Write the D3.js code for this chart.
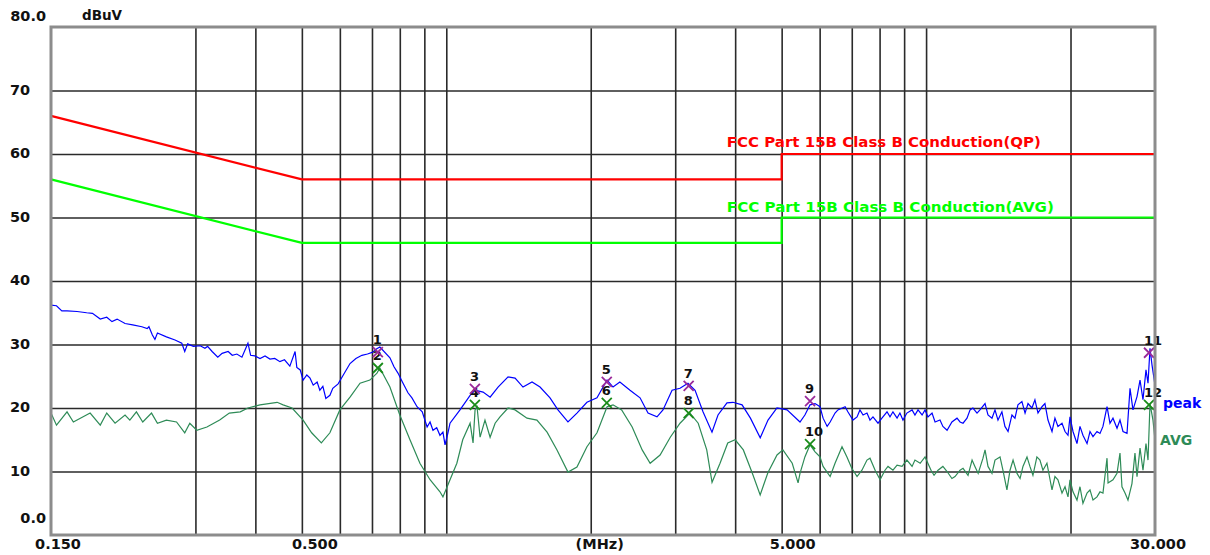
<!DOCTYPE html>
<html>
<head>
<meta charset="utf-8">
<script src="https://cdn.jsdelivr.net/npm/d3@7"></script>
<style>
  body { margin: 0; background: #fff; }
  text { font-family: "DejaVu Sans", sans-serif; font-weight: bold; }
</style>
</head>
<body>
<div id="chart"></div>
<script>
// frequency sweep (MHz) / level (dBuV)
const peakTrace = [
  [0.150,36.2],[0.154,36.1],[0.158,35.3],[0.162,35.3],[0.170,35.2],[0.178,35.0],[0.183,34.9],[0.190,34.0],
  [0.196,34.3],[0.201,33.6],[0.206,34.0],[0.214,33.3],[0.222,33.1],[0.232,32.8],[0.238,32.5],[0.240,32.8],
  [0.244,31.5],[0.247,30.8],[0.250,31.8],[0.261,31.2],[0.272,30.7],[0.281,30.2],[0.285,28.9],[0.289,30.1],
  [0.297,29.7],[0.307,29.8],[0.314,29.4],[0.318,29.7],[0.325,28.9],[0.334,28.0],[0.341,28.6],[0.351,28.9],
  [0.358,28.3],[0.366,28.5],[0.375,28.0],[0.386,30.2],[0.391,28.3],[0.399,28.2],[0.409,27.8],[0.419,28.2],
  [0.429,27.7],[0.439,27.8],[0.450,27.3],[0.460,27.6],[0.472,26.6],[0.484,28.9],[0.488,26.4],[0.496,26.0],
  [0.503,24.4],[0.512,25.2],[0.520,24.7],[0.528,23.6],[0.538,24.1],[0.545,22.8],[0.553,23.4],[0.561,21.5],
  [0.572,22.0],[0.580,23.1],[0.595,23.8],[0.610,25.2],[0.630,27.0],[0.648,27.8],[0.667,28.3],[0.685,28.5],
  [0.703,28.8],[0.715,29.3],[0.727,29.6],[0.763,27.9],[0.778,26.5],[0.793,25.5],[0.810,24.1],[0.832,22.4],
  [0.848,21.6],[0.869,20.2],[0.891,19.4],[0.912,17.0],[0.925,17.8],[0.938,16.5],[0.955,16.9],[0.970,15.7],
  [0.984,16.2],[0.994,14.2],[1.008,16.1],[1.018,17.6],[1.068,19.7],[1.121,22.0],[1.148,22.8],[1.193,22.5],
  [1.234,21.7],[1.282,23.3],[1.345,24.9],[1.391,24.7],[1.445,23.3],[1.509,24.1],[1.568,23.3],[1.645,21.6],
  [1.709,19.7],[1.793,17.8],[1.872,19.2],[1.964,20.9],[2.061,21.6],[2.163,24.4],[2.226,23.3],[2.30,24.1],
  [2.415,22.8],[2.534,21.6],[2.633,19.2],[2.749,18.6],[2.829,19.7],[2.955,22.8],[3.070,23.1],[3.189,23.9],
  [3.30,22.8],[3.428,19.4],[3.579,16.2],[3.684,18.9],[3.846,20.8],[3.958,20.9],[4.135,20.5],[4.304,18.4],
  [4.511,15.3],[4.683,18.1],[4.889,20.0],[5.131,19.7],[5.46,17.8],[5.59,18.9],[5.73,20.5],[5.87,20.7],
  [6.01,20.2],[6.10,18.4],[6.22,17.1],[6.31,17.8],[6.46,19.2],[6.55,19.7],[6.78,20.2],[6.87,19.4],
  [7.04,18.1],[7.18,18.6],[7.28,19.7],[7.39,18.9],[7.53,19.2],[7.64,18.1],[7.75,18.6],[7.94,17.6],
  [8.09,18.4],[8.29,19.4],[8.41,18.6],[8.53,19.4],[8.70,18.4],[8.82,19.2],[8.95,18.1],[9.12,19.2],
  [9.35,19.7],[9.48,18.9],[9.62,19.7],[9.81,18.9],[9.95,19.7],[10.09,18.6],[10.29,19.2],[10.44,17.8],
  [10.69,18.1],[10.84,17.1],[11.06,16.5],[11.32,17.8],[11.60,18.4],[11.77,17.8],[11.94,17.6],[12.17,18.4],
  [12.35,19.7],[12.52,20.0],[12.77,19.2],[12.95,19.7],[13.27,20.7],[13.46,18.9],[13.72,18.4],[13.92,19.7],
  [14.12,18.1],[14.39,19.4],[14.60,17.1],[14.82,16.3],[15.10,18.9],[15.32,18.4],[15.54,20.5],[15.84,21.0],
  [16.08,19.2],[16.31,20.7],[16.62,20.0],[16.86,21.3],[17.11,19.2],[17.44,20.2],[17.69,20.7],[17.95,18.1],
  [18.30,16.3],[18.56,18.4],[18.83,17.1],[19.20,17.6],[19.48,16.3],[19.76,15.7],[19.95,18.6],[20.24,16.3],
  [20.63,14.4],[20.93,17.1],[21.23,15.7],[21.65,14.4],[21.96,16.3],[22.28,15.5],[22.71,16.3],[23.04,16.0],
  [23.37,17.1],[23.83,20.2],[24.17,17.6],[24.52,18.4],[25.00,16.8],[25.36,18.1],[25.73,16.3],[26.23,16.0],
  [26.61,23.1],[26.99,19.7],[27.52,21.8],[27.92,24.4],[28.32,21.3],[28.73,26.0],[29.01,23.9],[29.29,29.4],
  [29.57,26.8],[30.0,23.6]
];

const avgTrace = [
  [0.150,19.2],[0.154,17.3],[0.162,19.4],[0.167,17.8],[0.181,19.2],[0.190,17.3],[0.196,19.2],[0.204,17.6],
  [0.214,18.9],[0.219,18.1],[0.226,19.4],[0.233,17.8],[0.243,19.2],[0.250,17.6],[0.261,18.1],[0.274,17.8],
  [0.285,16.1],[0.292,17.6],[0.302,16.5],[0.317,17.0],[0.337,18.1],[0.353,19.2],[0.372,19.4],[0.386,20.0],
  [0.409,20.5],[0.444,20.9],[0.457,20.5],[0.477,20.0],[0.503,18.1],[0.524,16.1],[0.549,14.5],[0.572,16.1],
  [0.600,19.7],[0.630,21.7],[0.661,23.9],[0.693,24.4],[0.717,25.5],[0.727,26.3],[0.763,23.3],[0.800,18.9],
  [0.840,15.0],[0.881,11.3],[0.925,8.7],[0.970,6.8],[0.984,6.0],[1.018,8.7],[1.052,11.3],[1.082,15.0],
  [1.121,17.6],[1.137,14.5],[1.148,19.7],[1.159,20.2],[1.176,15.4],[1.204,18.1],[1.234,15.4],[1.264,17.6],
  [1.294,18.6],[1.345,20.0],[1.391,19.7],[1.473,18.4],[1.545,18.1],[1.622,16.2],[1.701,13.4],[1.793,9.9],
  [1.872,10.7],[1.964,13.9],[2.061,16.1],[2.163,20.2],[2.226,20.5],[2.32,19.7],[2.44,17.0],[2.56,13.4],
  [2.66,11.3],[2.79,12.6],[2.93,15.4],[3.07,17.6],[3.22,19.2],[3.35,17.6],[3.49,13.4],[3.58,8.3],
  [3.72,11.3],[3.86,14.5],[4.00,15.0],[4.16,13.4],[4.34,9.8],[4.51,6.3],[4.68,9.8],[4.89,12.6],
  [5.03,13.4],[5.26,11.3],[5.41,8.2],[5.46,9.7],[5.59,12.3],[5.73,14.2],[5.87,13.1],[6.01,12.3],
  [6.10,10.8],[6.31,9.2],[6.46,11.3],[6.68,13.9],[6.84,12.3],[7.00,10.5],[7.18,9.2],[7.35,10.2],
  [7.53,11.8],[7.64,12.1],[7.83,10.2],[8.02,8.7],[8.21,10.2],[8.33,10.8],[8.53,10.2],[8.70,11.0],
  [8.91,10.8],[9.12,11.8],[9.35,10.8],[9.48,11.8],[9.72,11.3],[9.95,12.3],[10.24,10.2],[10.39,9.4],
  [10.59,10.2],[10.84,10.8],[11.06,10.0],[11.32,8.9],[11.49,9.2],[11.77,10.2],[11.94,10.5],[12.23,9.4],
  [12.47,11.8],[12.64,10.8],[12.84,9.7],[13.14,12.1],[13.27,13.4],[13.46,10.8],[13.72,9.7],[13.92,11.8],
  [14.26,12.3],[14.46,10.2],[14.74,7.1],[14.96,10.2],[15.18,11.8],[15.47,9.7],[15.70,8.9],[15.92,10.8],
  [16.23,12.3],[16.46,10.8],[16.70,9.4],[17.02,12.3],[17.27,11.8],[17.52,10.2],[17.86,11.3],[18.13,8.7],
  [18.30,7.1],[18.56,9.2],[18.83,8.7],[19.20,6.6],[19.48,7.6],[19.76,6.0],[19.95,8.7],[20.24,6.8],
  [20.63,5.5],[20.93,7.6],[21.23,5.0],[21.65,6.6],[21.96,7.1],[22.28,5.5],[22.71,6.0],[23.04,6.8],
  [23.37,6.6],[23.83,12.1],[23.95,8.2],[24.52,8.7],[25.00,9.7],[25.36,12.9],[25.60,7.6],[25.98,6.6],
  [26.35,5.5],[26.86,8.1],[27.25,12.9],[27.52,9.2],[27.92,13.7],[28.32,10.2],[28.73,14.4],[29.01,11.8],
  [29.29,20.7],[29.71,18.1],[30.0,15.0]
];

// FCC Part 15B Class B conducted limits
const qpLimit  = [[0.15,66],[0.5,56],[5,56],[5,60],[30,60]];
const avgLimit = [[0.15,56],[0.5,46],[5,46],[5,50],[30,50]];
const qpLabel  = "FCC Part 15B Class B Conduction(QP)";
const avgLabel = "FCC Part 15B Class B Conduction(AVG)";

// marked points: number, MHz, dBuV
const peakMarks = [[1,0.720,28.8],[3,1.147,23.0],[5,2.16,24.1],[7,3.20,23.5],[9,5.73,21.1],[11,29.15,28.7]];
const avgMarks  = [[2,0.720,26.3],[4,1.147,20.5],[6,2.16,20.8],[8,3.20,19.2],[10,5.73,14.3],[12,29.15,20.5]];

const yTicks = [0,10,20,30,40,50,60,70,80];
const yTickLabels = ["0.0","10","20","30","40","50","60","70","80.0"];
const gridFreqs = [0.3,0.4,0.5,0.6,0.7,0.8,0.9,1,2,3,4,5,6,7,8,9,10,20];
const xLabelFreqs = [0.15,0.5,5,30];
const xLabels = ["0.150","0.500","5.000","30.000"];

const W = 1210, H = 555;
const margin = {top: 27, right: 55, bottom: 20, left: 51};
const width = W - margin.left - margin.right,
      height = H - margin.top - margin.bottom;

const svg = d3.select("#chart").append("svg")
    .attr("width", W)
    .attr("height", H);

const g = svg.append("g")
    .attr("transform", `translate(${margin.left},${margin.top})`);

const x = d3.scaleLog().domain([0.15, 30]).range([0, width]);
const y = d3.scaleLinear().domain([0, 80]).range([height, 0]);

// grid
g.append("g")
    .attr("class", "grid")
    .call(d3.axisBottom(x).tickValues(gridFreqs).tickSize(height).tickFormat(""))
    .call(s => s.select(".domain").remove())
    .selectAll("line").attr("stroke", "#2a2a2a").attr("stroke-width", 1.6);

g.append("g")
    .attr("class", "grid")
    .call(d3.axisLeft(y).tickValues(yTicks.slice(1, -1)).tickSize(-width).tickFormat(""))
    .call(s => s.select(".domain").remove())
    .selectAll("line").attr("stroke", "#2a2a2a").attr("stroke-width", 1.6);

const line = d3.line().x(d => x(d[0])).y(d => y(d[1]));

// limit lines
g.append("path").datum(qpLimit).attr("d", line)
    .attr("fill", "none").attr("stroke", "#ff0000").attr("stroke-width", 2.2);
g.append("path").datum(avgLimit).attr("d", line)
    .attr("fill", "none").attr("stroke", "#00ff00").attr("stroke-width", 2.2);

g.append("text").attr("x", x(3.9) - 3).attr("y", y(60) - 7)
    .attr("fill", "#ff0000").style("font-size", "14px")
    .attr("textLength", 314).attr("lengthAdjust", "spacingAndGlyphs")
    .text(qpLabel);
g.append("text").attr("x", x(3.9) - 3).attr("y", y(50) - 6)
    .attr("fill", "#00ff00").style("font-size", "14px")
    .attr("textLength", 327).attr("lengthAdjust", "spacingAndGlyphs")
    .text(avgLabel);

// measured traces
g.append("path").datum(avgTrace).attr("d", line)
    .attr("fill", "none").attr("stroke", "#2e8b57").attr("stroke-width", 1.2);
g.append("path").datum(peakTrace).attr("d", line)
    .attr("fill", "none").attr("stroke", "#0000ff").attr("stroke-width", 1.2);

// markers
function drawMarks(marks, color) {
  const m = g.append("g").selectAll("g").data(marks).enter().append("g")
      .attr("transform", d => `translate(${x(d[1])},${y(d[2])})`);
  m.append("path").attr("d", "M-5,-5L5,5M-5,5L5,-5")
      .attr("stroke", color).attr("stroke-width", 1.8).attr("fill", "none");
  m.append("text").attr("x", -5).attr("y", -8)
      .style("font-size", "13px").attr("fill", "#111")
      .text(d => d[0]);
}
drawMarks(avgMarks, "#1a8c1a");
drawMarks(peakMarks, "#9a2a9a");

// trace names
g.append("text").attr("x", width + 8).attr("y", y(20.5) + 3)
    .attr("fill", "#0000ff").style("font-size", "14px").text("peak");
g.append("text").attr("x", width + 5).attr("y", y(14.3) + 1)
    .attr("fill", "#2e8b57").style("font-size", "14px").text("AVG");

// frame
g.append("rect").attr("x", 0).attr("y", 0).attr("width", width).attr("height", height)
    .attr("fill", "none").attr("stroke", "#8c8c8c").attr("stroke-width", 3);

// y labels
g.selectAll(".ylab").data(yTicks).enter().append("text")
    .attr("class", "ylab")
    .attr("x", (d, i) => yTickLabels[i].includes(".") ? -5 : -41)
    .attr("text-anchor", (d, i) => yTickLabels[i].includes(".") ? "end" : "start")
    .attr("y", d => d === 80 ? y(d) - 6 : d === 0 ? y(d) - 12 : y(d) + 4)
    .style("font-size", "14.5px").attr("fill", "#111")
    .text((d, i) => yTickLabels[i]);

g.append("text").attr("x", 31).attr("y", -7)
    .style("font-size", "13.5px").attr("fill", "#111").text("dBuV");

// x labels
const xOff = [7, 13, 11, 3];
g.selectAll(".xlab").data(xLabelFreqs).enter().append("text")
    .attr("class", "xlab")
    .attr("x", (d, i) => x(d) + xOff[i])
    .attr("y", height + 14)
    .attr("text-anchor", "middle")
    .style("font-size", "14.5px").attr("fill", "#111")
    .text((d, i) => xLabels[i]);

g.append("text").attr("x", x(2) + 9).attr("y", height + 14)
    .attr("text-anchor", "middle")
    .style("font-size", "14.5px").attr("fill", "#111").text("(MHz)");
</script>
</body>
</html>
